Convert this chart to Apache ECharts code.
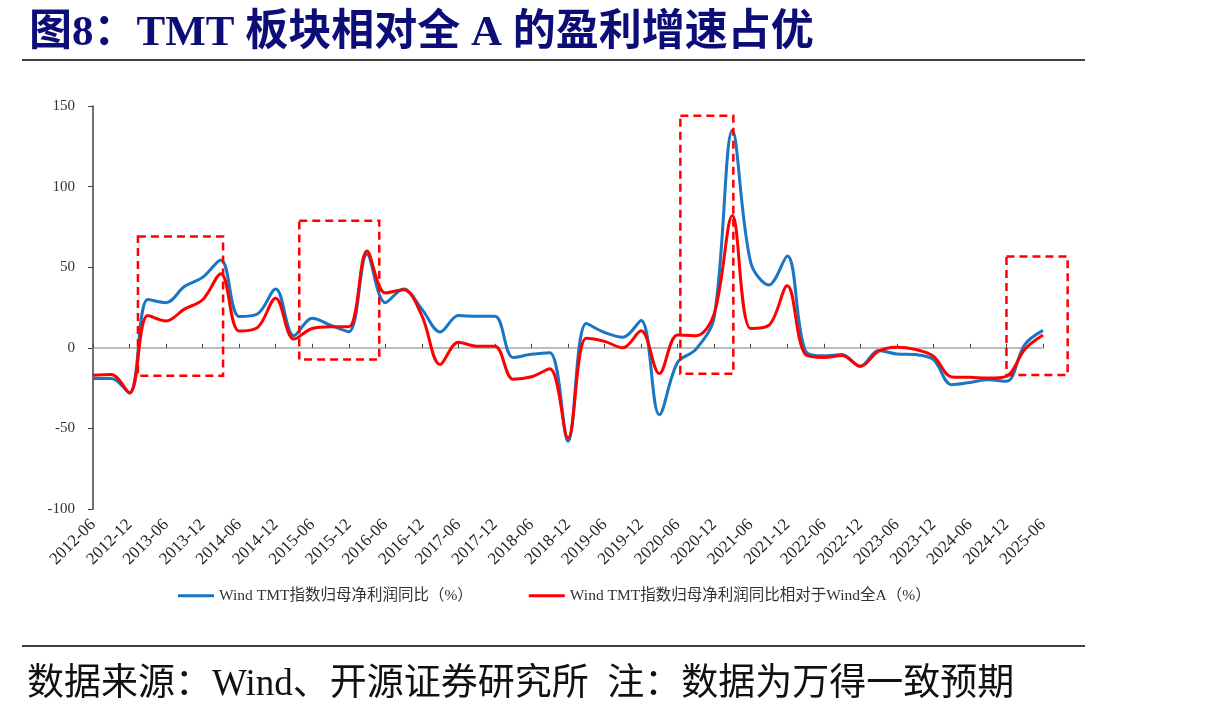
<!DOCTYPE html>
<html>
<head>
<meta charset="utf-8">
<script src="https://cdn.jsdelivr.net/npm/echarts@6/dist/echarts.min.js"></script>
<style>
  html, body { margin: 0; padding: 0; background: #fff; }
  #myChart { width: 1210px; height: 713px; }
</style>
</head>
<body>
<div id="myChart"></div>
<script>
// quarterly points, 2012-06 .. 2025-06
var quarters = ['2012-06','2012-09','2012-12','2013-03','2013-06','2013-09','2013-12','2014-03','2014-06','2014-09',
  '2014-12','2015-03','2015-06','2015-09','2015-12','2016-03','2016-06','2016-09','2016-12','2017-03',
  '2017-06','2017-09','2017-12','2018-03','2018-06','2018-09','2018-12','2019-03','2019-06','2019-09',
  '2019-12','2020-03','2020-06','2020-09','2020-12','2021-03','2021-06','2021-09','2021-12','2022-03',
  '2022-06','2022-09','2022-12','2023-03','2023-06','2023-09','2023-12','2024-03','2024-06','2024-09',
  '2024-12','2025-03','2025-06'];

// Wind TMT指数归母净利润同比（%）
var tmtYoy = [-19,-19,-28,30,28,38,43.7,54.5,19.4,21,
  36.5,7.5,18.3,14,10,58,28,36.5,24,9.8,
  20,19.5,19.5,-6,-4,-3,-58,15,9.5,6.5,
  17,-41.5,-9,-1,19,135,53,39,57,-2,
  -5,-4.2,-11.5,-1.7,-3.8,-4.2,-7.3,-22.9,-21.5,-19.8,
  -20.8,2,10.8];

// Wind TMT指数归母净利润同比相对于Wind全A（%）
var tmtRel = [-17,-16.5,-28,20,16.6,24,29.8,46,10.4,12.5,
  30.8,5.4,12,13,13,60,34,36,20,-10.4,
  3.5,1,1,-19.5,-18,-13,-56,6,4,0,
  10.5,-16,8,7.5,21,82,12,14,38.5,-4.2,
  -6,-4.8,-11.5,-2.1,0.4,-1,-5.2,-18.1,-18.3,-18.8,
  -17.7,-1,7.9];

var yTicks = [-100, -50, 0, 50, 100, 150];

// dashed highlight boxes: [x0, y0, x1, y1] in quarter index / value units
var boxes = [
  [2.46, 69, 7.12, -17.3],
  [11.29, 78.8, 15.67, -7.3],
  [32.15, 144, 35.05, -16.1],
  [50.0, 56.6, 53.35, -16.9]
];

var nameA = 'Wind TMT指数归母净利润同比（%）';
var nameB = 'Wind TMT指数归母净利润同比相对于Wind全A（%）';
var serif = '"Liberation Serif", "Noto Sans CJK SC", serif';

var tmtData = tmtYoy.map(function (v, i) { return [i, v]; });
var relData = tmtRel.map(function (v, i) { return [i, v]; });

var myChart = echarts.init(document.getElementById('myChart'));

var option = {
  animation: false,
  title: [{
    text: '图8：TMT 板块相对全 A 的盈利增速占优',
    left: 24, top: 7,
    textStyle: { fontSize: 43, fontWeight: 'bold', color: '#0d0d78', fontFamily: serif }
  }, {
    text: '数据来源：Wind、开源证券研究所  注：数据为万得一致预期',
    left: 22, top: 662,
    textStyle: { fontSize: 37, fontWeight: 'normal', color: '#111', fontFamily: serif }
  }],
  legend: {
    left: 173, top: 583,
    itemWidth: 36, itemHeight: 3, itemGap: 56,
    icon: 'rect',
    textStyle: { fontSize: 15.5, color: '#333', fontFamily: serif },
    data: [nameA, nameB]
  },
  grid: { left: 93, right: 167, top: 106, bottom: 204 },
  xAxis: [{
    // zero line with small ticks
    type: 'value', min: 0, max: quarters.length - 1, interval: 2,
    axisLine: { onZero: true, lineStyle: { color: '#a6a6a6', width: 1.5 } },
    axisTick: { inside: true, length: 4, lineStyle: { color: '#404040' } },
    axisLabel: { show: false },
    splitLine: { show: false }
  }, {
    // labels at the bottom
    type: 'value', min: 0, max: quarters.length - 1, interval: 2,
    position: 'bottom',
    axisLine: { show: false, onZero: false },
    axisTick: { show: false },
    splitLine: { show: false },
    axisLabel: {
      rotate: 45, margin: 13, fontSize: 17, color: '#222', fontFamily: serif,
      formatter: function (v) { return quarters[v] || ''; }
    }
  }],
  yAxis: {
    type: 'value', min: yTicks[0], max: yTicks[yTicks.length - 1], interval: 50,
    axisLine: { show: true, lineStyle: { color: '#404040', width: 1.5 } },
    axisTick: { show: true, length: 5, lineStyle: { color: '#404040' } },
    axisLabel: { margin: 18, fontSize: 15, color: '#333', fontFamily: serif },
    splitLine: { show: false }
  },
  series: [{
    name: nameA, type: 'line', smooth: 0.35, showSymbol: false,
    lineStyle: { color: '#1a75c2', width: 3 }, itemStyle: { color: '#1a75c2' },
    data: tmtData
  }, {
    name: nameB, type: 'line', smooth: 0.35, showSymbol: false,
    lineStyle: { color: '#ff0000', width: 3 }, itemStyle: { color: '#ff0000' },
    data: relData
  }],
  graphic: [
    { type: 'line', shape: { x1: 22, y1: 60, x2: 1085, y2: 60 }, style: { stroke: '#000', lineWidth: 1.5 } },
    { type: 'line', shape: { x1: 22, y1: 646, x2: 1085, y2: 646 }, style: { stroke: '#000', lineWidth: 1.5 } }
  ]
};
myChart.setOption(option);

// boxes placed through the chart's own scales
var boxGraphics = boxes.map(function (b) {
  var p0 = myChart.convertToPixel({ gridIndex: 0 }, [b[0], b[1]]);
  var p1 = myChart.convertToPixel({ gridIndex: 0 }, [b[2], b[3]]);
  return {
    type: 'rect',
    shape: { x: p0[0], y: p0[1], width: p1[0] - p0[0], height: p1[1] - p0[1] },
    style: { fill: 'none', stroke: '#ff0000', lineWidth: 2.5, lineDash: [8, 5] },
    z: 10
  };
});
myChart.setOption({ graphic: option.graphic.concat(boxGraphics) });
</script>
</body>
</html>
